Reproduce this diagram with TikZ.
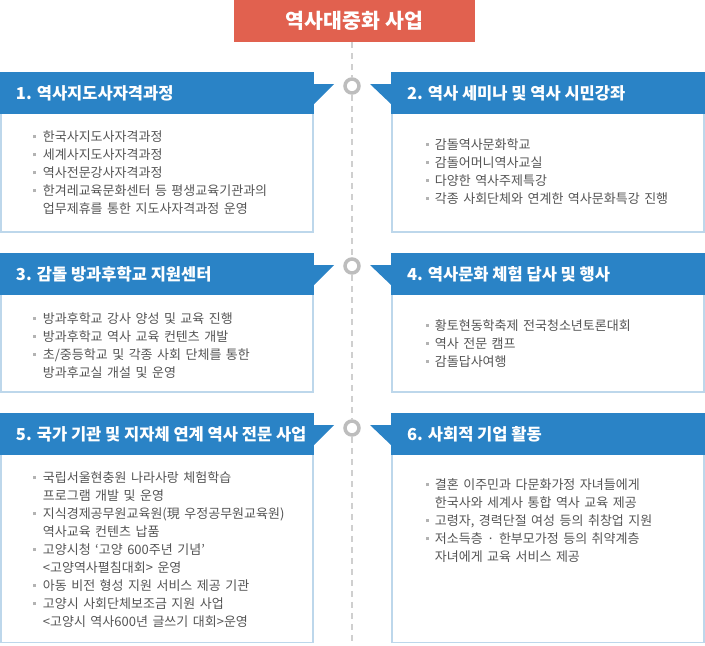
\documentclass[tikz,border=0pt]{standalone}
\usepackage{fontspec}
\usetikzlibrary{positioning}
\newfontfamily\krfont{Noto Sans CJK KR}
\definecolor{titlered}{HTML}{E1614F}
\definecolor{headblue}{HTML}{2A83C6}
\definecolor{bodyline}{HTML}{BDD7EB}
\definecolor{textgray}{HTML}{555555}
\definecolor{bulletgray}{HTML}{B3B3B3}
\definecolor{ringgray}{HTML}{BDBDBD}
\definecolor{dashgray}{HTML}{CFCFCF}
\newcommand{\bul}{\makebox[9.4pt][l]{\textcolor{bulletgray}{\rule[3.5pt]{3pt}{3pt}}}}
\newcommand{\cont}{\hspace*{9.4pt}}
\newcommand{\setsp}[1]{\spaceskip #1\relax}
\newcommand{\headtxt}[1]{\makebox[282pt][l]{\setsp{3.8pt}#1}}
\pgfdeclarelayer{back}
\pgfsetlayers{back,main}

\begin{document}
\begin{tikzpicture}[x=1pt, y=-1pt,
    titlebox/.style={rectangle, fill=titlered, text=white, minimum width=241pt, minimum height=42pt, inner sep=0pt, outer sep=0pt, font={\krfont\bfseries\fontsize{20.5}{22}\selectfont\setsp{5pt}}},
    headbox/.style={rectangle, fill=headblue, text=white, minimum width=314pt, minimum height=42pt, inner xsep=16pt, inner ysep=0pt, outer sep=0pt, font={\krfont\bfseries\fontsize{16.5}{20}\selectfont}},
    bodybox/.style={rectangle, draw=bodyline, line width=1.7pt, fill=white, minimum width=312.3pt, inner sep=0pt, outer sep=0pt},
    itemtext/.style={inner sep=0pt, align=left, text=textgray, font={\krfont\fontsize{13}{18}\selectfont\setsp{4.5pt}}},
    ring/.style={circle, draw=ringgray, line width=3.5pt, fill=white, minimum size=14pt, inner sep=0pt},
    dashline/.style={draw=dashgray, line width=2.3pt, dash pattern=on 6pt off 5pt}]
    \useasboundingbox (0,0) rectangle (705,646);

    % Define nodes
    \node (title) [titlebox] at (354.5,21) {역사대중화 사업};

    \node (head1) [headbox, anchor=north west] at (0,72) {\headtxt{1. 역사지도사자격과정}};
    \node (head2) [headbox, anchor=north east] at (705,72) {\headtxt{2. 역사 세미나 및 역사 시민강좌}};
    \node (head3) [headbox, anchor=north west] at (0,253) {\headtxt{3. 감돌 방과후학교 지원센터}};
    \node (head4) [headbox, anchor=north east] at (705,253) {\headtxt{4. 역사문화 체험 답사 및 행사}};
    \node (head5) [headbox, anchor=north west] at (0,413) {\headtxt{5. 국가 기관 및 지자체 연계 역사 전문 사업}};
    \node (head6) [headbox, anchor=north east] at (705,413) {\headtxt{6. 사회적 기업 활동}};

    % header tabs
    \foreach \l/\r in {head1/head2, head3/head4, head5/head6} {
        \fill[headblue] ([yshift=-12pt]\l.north east) -- ++(20,0) -- ++(-20,20) -- cycle;
        \fill[headblue] ([yshift=-12pt]\r.north west) -- ++(-21,0) -- ++(21,20) -- cycle;
    }

    \begin{pgfonlayer}{back}
    \node (body1) [bodybox, minimum height=119pt, anchor=north west] at ([shift={(1,-1)}]head1.south west) {};
    \node (body2) [bodybox, minimum height=119pt, anchor=north east] at ([shift={(-1,-1)}]head2.south east) {};
    \node (body3) [bodybox, minimum height=98pt, anchor=north west] at ([shift={(1,-1)}]head3.south west) {};
    \node (body4) [bodybox, minimum height=98pt, anchor=north east] at ([shift={(-1,-1)}]head4.south east) {};
    \node (body5) [bodybox, minimum height=188.5pt, anchor=north west] at ([shift={(1,-1)}]head5.south west) {};
    \node (body6) [bodybox, minimum height=188.5pt, anchor=north east] at ([shift={(-1,-1)}]head6.south east) {};
    \end{pgfonlayer}

    \node (list1) [itemtext, below right=17pt and 33.3pt of head1.south west] {\bul 한국사지도사자격과정\\ \bul 세계사지도사자격과정\\ \bul 역사전문강사자격과정\\ \bul 한겨레교육문화센터 등 평생교육기관과의\\ \cont 업무제휴를 통한 지도사자격과정 운영};
    \node (list2) [itemtext, below right=24pt and 34.3pt of head2.south west] {\bul 감돌역사문화학교\\ \bul 감돌어머니역사교실\\ \bul 다양한 역사주제특강\\ \bul 각종 사회단체와 연계한 역사문화특강 진행};
    \node (list3) [itemtext, below right=17pt and 33.3pt of head3.south west] {\bul 방과후학교 강사 양성 및 교육 진행\\ \bul 방과후학교 역사 교육 컨텐츠 개발\\ \bul 초/중등학교 및 각종 사회 단체를 통한\\ \cont 방과후교실 개설 및 운영};
    \node (list4) [itemtext, below right=24pt and 34.3pt of head4.south west] {\bul 황토현동학축제 전국청소년토론대회\\ \bul 역사 전문 캠프\\ \bul 감돌답사여행};
    \node (list5) [itemtext, below right=16.5pt and 33.3pt of head5.south west] {\bul 국립서울현충원 나라사랑 체험학습\\ \cont 프로그램 개발 및 운영\\ \bul 지식경제공무원교육원(現 우정공무원교육원)\\ \cont 역사교육 컨텐츠 납품\\ \bul 고양시청 ‘고양 600주년 기념’\\ \cont <고양역사펼침대회> 운영\\ \bul 아동 비전 형성 지원 서비스 제공 기관\\ \bul 고양시 사회단체보조금 지원 사업\\ \cont <고양시 역사600년 글쓰기 대회>운영};
    \node (list6) [itemtext, below right=23.5pt and 34.3pt of head6.south west] {\bul 결혼 이주민과 다문화가정 자녀들에게\\ \cont 한국사와 세계사 통합 역사 교육 제공\\ \bul 고령자, 경력단절 여성 등의 취창업 지원\\ \bul 저소득층 · 한부모가정 등의 취약계층\\ \cont 자녀에게 교육 서비스 제공};

    \node (ring1) [ring] at (352,86) {};
    \node (ring2) [ring] at (352,266) {};
    \node (ring3) [ring] at (352,428) {};
    \coordinate (bottom) at (352,646);

    % Connect nodes
    \draw[dashline] (title.south -| ring1) -- (ring1);
    \draw[dashline] (ring1) -- (ring2);
    \draw[dashline] (ring2) -- (ring3);
    \draw[dashline] (ring3) -- (bottom);
\end{tikzpicture}
\end{document}
